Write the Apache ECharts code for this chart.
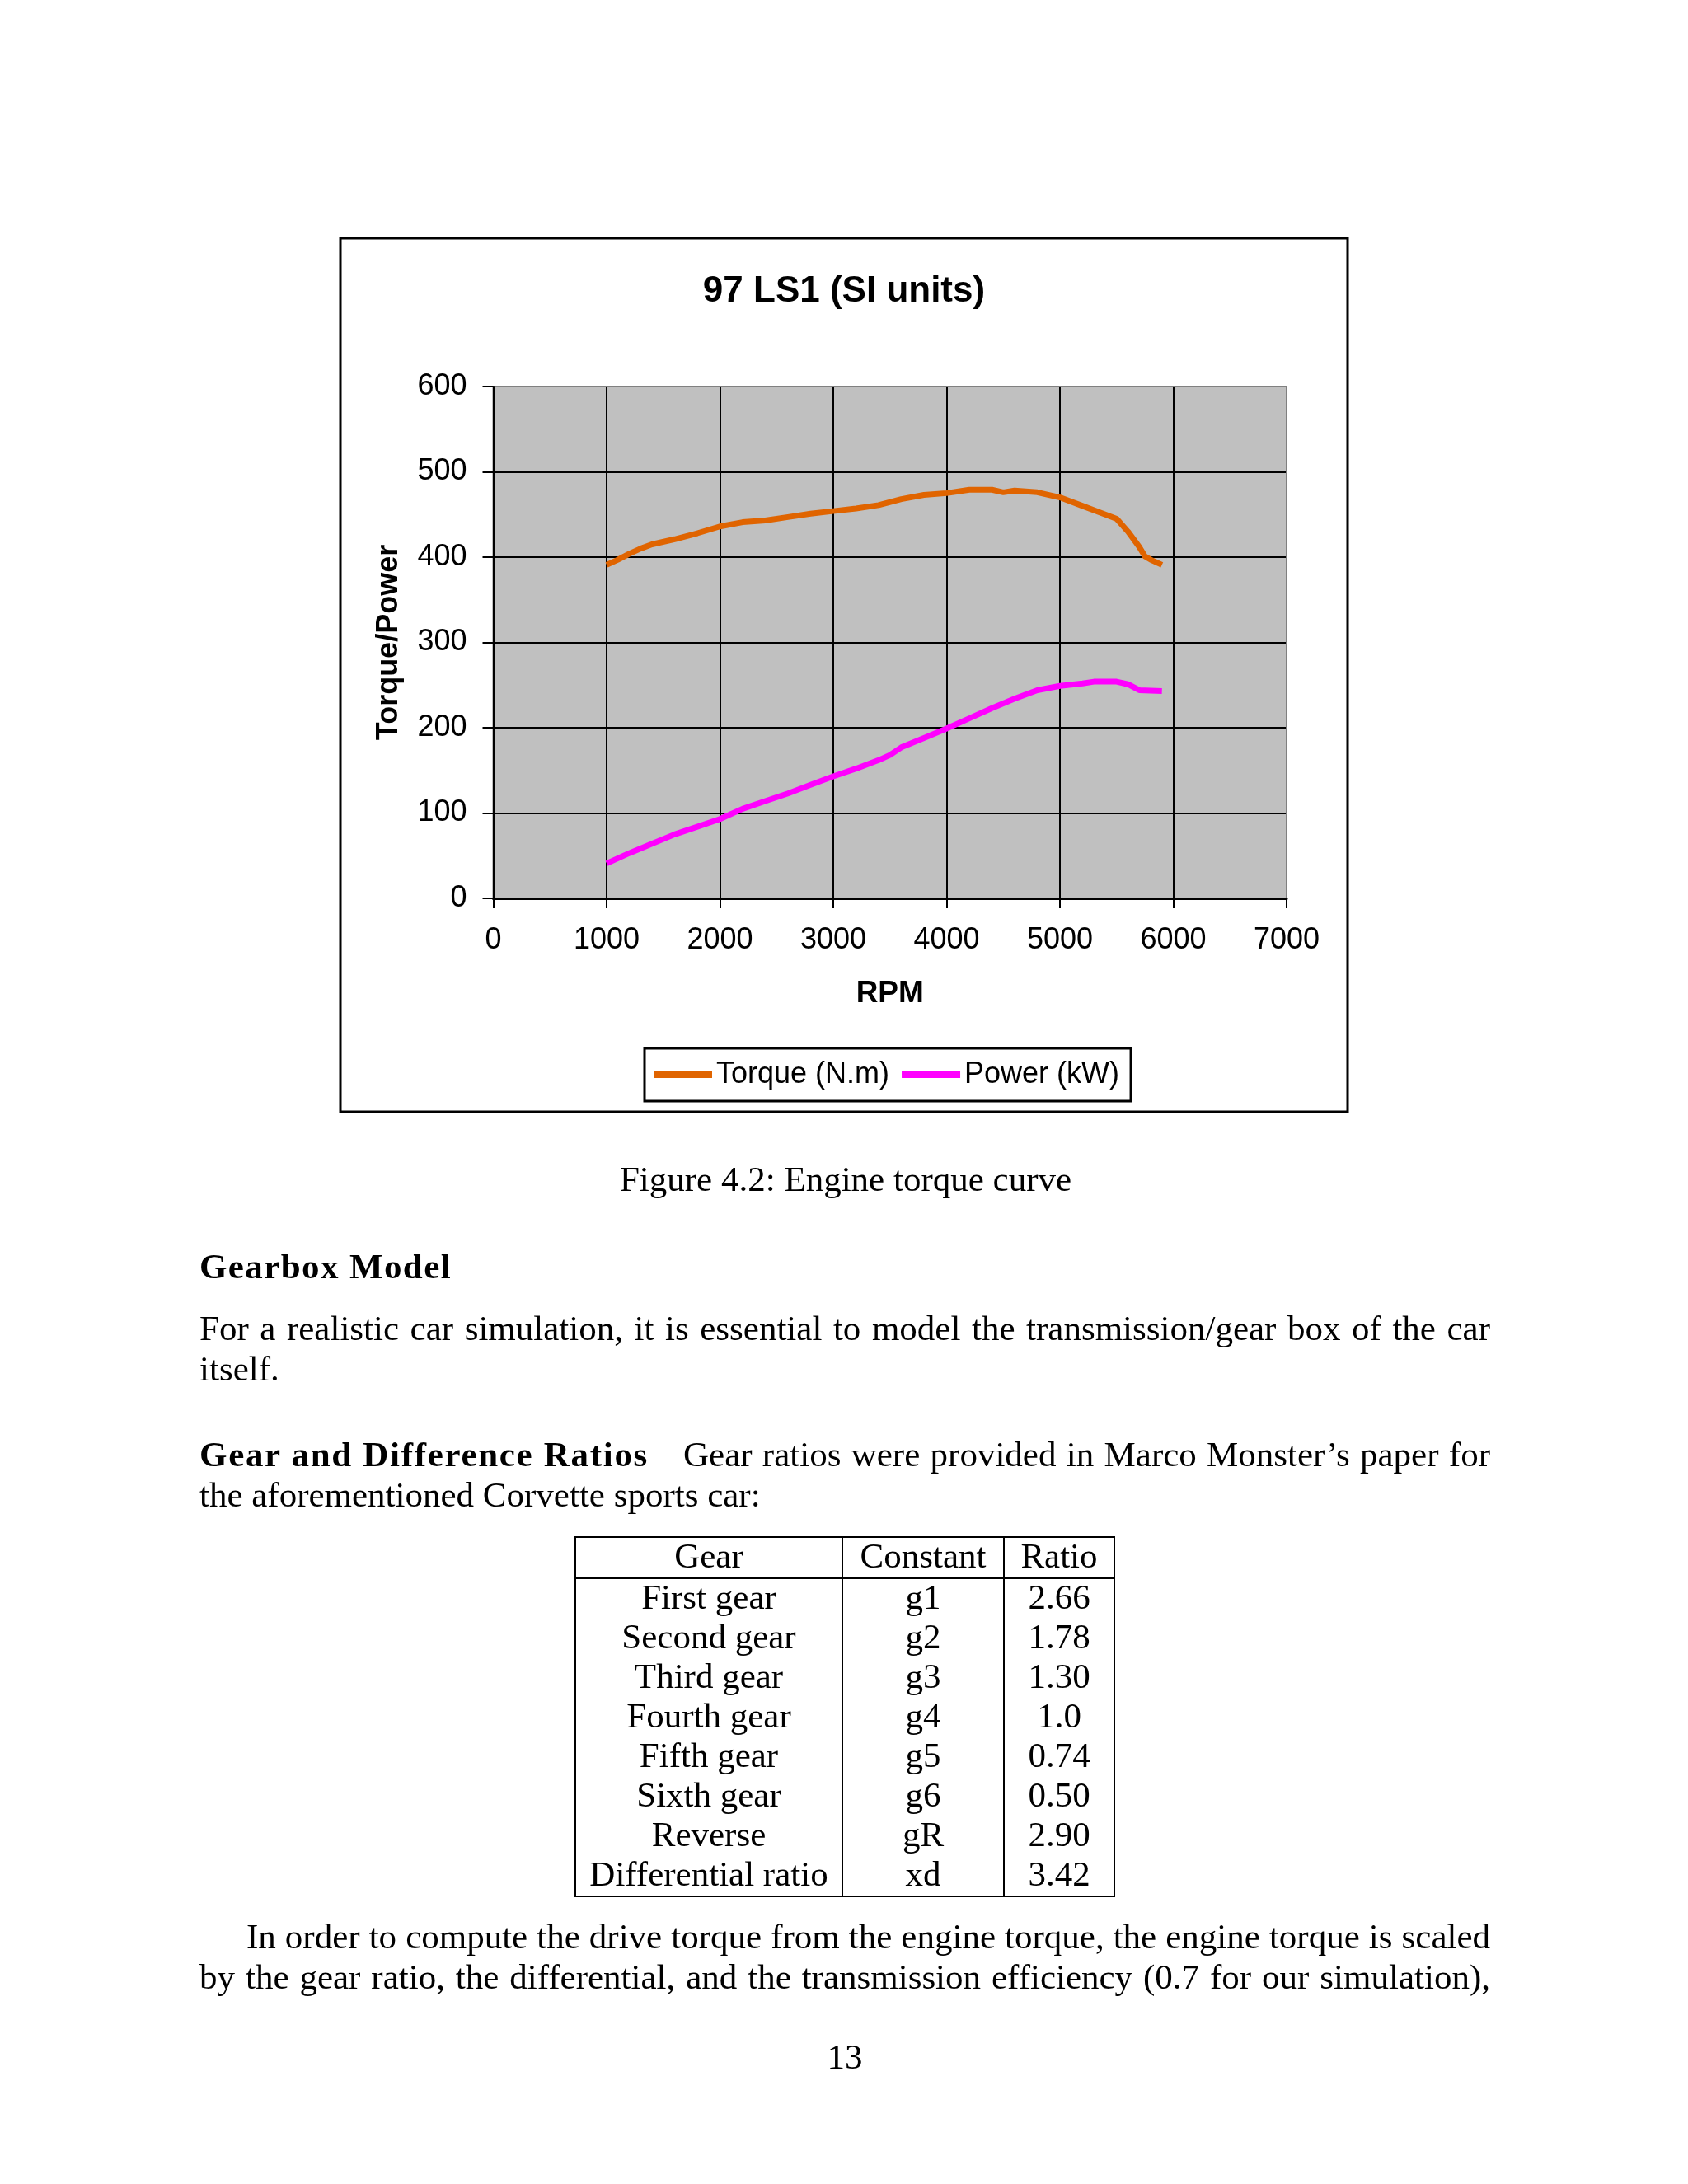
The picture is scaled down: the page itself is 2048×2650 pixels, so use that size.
<!DOCTYPE html>
<html>
<head>
<meta charset="utf-8">
<script src="https://cdn.jsdelivr.net/npm/echarts@6/dist/echarts.min.js"></script>
<style>
html,body{margin:0;padding:0;background:#fff;}
#page{position:relative;width:2048px;height:2650px;overflow:hidden;background:#fff;}
#chart{position:absolute;left:0;top:0;width:2048px;height:2650px;}
.ln{position:absolute;white-space:nowrap;font-family:'Liberation Serif','Times New Roman',serif;font-size:43px;line-height:52px;color:#000;z-index:2;}
.b{font-weight:bold;}
#tbl{position:absolute;left:697px;top:1864px;border-collapse:collapse;table-layout:fixed;z-index:2;
  font-family:'Liberation Serif','Times New Roman',serif;font-size:43px;color:#000;border:2px solid #000;}
#tbl td{padding:0 0 4px 0;text-align:center;vertical-align:middle;height:44px;line-height:44px;border-left:2px solid #000;border-right:2px solid #000;white-space:nowrap;}
#tbl tr.hd td{border-bottom:2px solid #000;}
</style>
</head>
<body>
<div id="page">
  <div id="chart"></div>

  <div class="ln" data-cx="1026" style="top:1405px;">Figure 4.2: Engine torque curve</div>

  <div class="ln b" data-w="306" data-mode="ls" style="left:242px;top:1511px;">Gearbox Model</div>

  <div class="ln" data-w="1566" style="left:242px;top:1586px;">For a realistic car simulation, it is essential to model the transmission/gear box of the car</div>
  <div class="ln" style="left:242px;top:1635px;">itself.</div>

  <div class="ln b" data-w="545" data-mode="ls" style="left:242px;top:1739px;">Gear and Difference Ratios</div>
  <div class="ln" data-w="979" style="left:829px;top:1739px;">Gear ratios were provided in Marco Monster’s paper for</div>
  <div class="ln" style="left:242px;top:1788px;">the aforementioned Corvette sports car:</div>

  <table id="tbl">
    <colgroup><col style="width:324px"><col style="width:196px"><col style="width:134px"></colgroup>
    <tbody id="tbody"></tbody>
  </table>

  <div class="ln" data-w="1509" style="left:299px;top:2324px;">In order to compute the drive torque from the engine torque, the engine torque is scaled</div>
  <div class="ln" data-w="1566" style="left:242px;top:2373px;">by the gear ratio, the differential, and the transmission efficiency (0.7 for our simulation),</div>

  <div class="ln" data-cx="1025" style="top:2470px;">13</div>
</div>

<script>
// ---------------- chart data ----------------
const chartTitle = '97 LS1 (SI units)';
const xAxisName = 'RPM';
const yAxisName = 'Torque/Power';
const torqueName = 'Torque (N.m)';
const powerName = 'Power (kW)';

const torqueRpm = [1000,1100,1200,1300,1400,1600,1800,2000,2200,2400,2600,2800,3000,3200,3400,3600,3800,4000,4200,4400,4500,4600,4800,5000,5200,5400,5500,5600,5700,5750,5800,5900];
const torqueNm  = [391, 397, 404, 410, 415, 421, 428, 436, 441, 443, 447, 451, 454, 457, 461, 468, 473, 475, 479, 479, 476, 478, 476, 470, 460, 450, 445, 430, 412, 401, 397, 391];

const powerRpm = [1000,1200,1400,1600,1800,2000,2200,2400,2600,2800,3000,3200,3400,3500,3600,3800,4000,4200,4400,4600,4800,5000,5200,5300,5500,5600,5700,5900];
const powerKw  = [41,  53,  64,  75,  84,  93,  105, 114, 123, 133, 143, 152, 162, 168, 177, 188, 199, 211, 223, 234, 244, 249, 252, 254, 254, 251, 244, 243];

// ---------------- table data ----------------
const tableHeader = ['Gear','Constant','Ratio'];
const gearNames = ['First gear','Second gear','Third gear','Fourth gear','Fifth gear','Sixth gear','Reverse','Differential ratio'];
const gearConstants = ['g1','g2','g3','g4','g5','g6','gR','xd'];
const gearRatios = ['2.66','1.78','1.30','1.0','0.74','0.50','2.90','3.42'];

// build table
(function(){
  const tb = document.getElementById('tbody');
  let html = '<tr class="hd">' + tableHeader.map(h=>'<td>'+h+'</td>').join('') + '</tr>';
  for (let i=0;i<gearNames.length;i++){
    html += '<tr><td>'+gearNames[i]+'</td><td>'+gearConstants[i]+'</td><td>'+gearRatios[i]+'</td></tr>';
  }
  tb.innerHTML = html;
})();

// text line fitting
function fitLines(){
  document.querySelectorAll('.ln').forEach(el=>{
    if (el.dataset.cx){
      el.style.left = '0px';
      const w = el.getBoundingClientRect().width;
      el.style.left = (parseFloat(el.dataset.cx) - w/2) + 'px';
    }
    if (el.dataset.w){
      const target = parseFloat(el.dataset.w);
      el.style.wordSpacing = '0px';
      el.style.letterSpacing = '0px';
      const nat = el.getBoundingClientRect().width;
      if (el.dataset.mode === 'ls'){
        const n = el.textContent.length;
        el.style.letterSpacing = ((target - nat)/n) + 'px';
      } else {
        const spaces = (el.textContent.match(/ /g)||[]).length;
        if (spaces>0) el.style.wordSpacing = ((target - nat)/spaces) + 'px';
      }
    }
  });
}
fitLines();
if (document.fonts && document.fonts.ready) document.fonts.ready.then(fitLines);

// ---------------- chart ----------------
const SANS = "'Liberation Sans', Arial, Helvetica, sans-serif";
const TORQUE_COLOR = '#E06400';
const POWER_COLOR = '#FF00FF';

const chart = echarts.init(document.getElementById('chart'), null, {renderer:'canvas'});
const option = {
  animation: false,
  backgroundColor: '#ffffff',
  title: {
    text: chartTitle,
    left: 'center',
    top: 327,
    textStyle: {fontFamily: SANS, fontSize: 44, fontWeight: 'bold', color: '#000'}
  },
  graphic: [{
    type: 'rect',
    shape: {x: 413, y: 289, width: 1222, height: 1060},
    style: {fill: 'none', stroke: '#000', lineWidth: 3},
    silent: true
  }],
  legend: {
    show: true,
    left: 782,
    top: 1272,
    orient: 'horizontal',
    padding: [14, 14, 14, 11],
    itemGap: 15,
    itemWidth: 71,
    itemHeight: 8,
    icon: 'rect',
    selectedMode: false,
    borderColor: '#000',
    borderWidth: 3,
    backgroundColor: '#fff',
    textStyle: {fontFamily: SANS, fontSize: 36, color: '#000'},
    data: [torqueName, powerName]
  },
  grid: {
    left: 598.5, top: 469, width: 962.5, height: 621,
    show: true, backgroundColor: '#C0C0C0', borderColor: '#808080', borderWidth: 2,
    containLabel: false
  },
  xAxis: {
    type: 'value', min: 0, max: 7000, interval: 1000,
    name: xAxisName, nameLocation: 'middle', nameGap: 116,
    nameTextStyle: {fontFamily: SANS, fontSize: 37, fontWeight: 'bold', color: '#000', verticalAlign: 'middle'},
    axisLine: {show: true, onZero: false, lineStyle: {color: '#000', width: 3}},
    axisTick: {show: true, length: 12, lineStyle: {color: '#000', width: 2}},
    axisLabel: {margin: 33, fontFamily: SANS, fontSize: 36, color: '#000', formatter: v => String(v)},
    splitLine: {show: true, lineStyle: {color: ['#000','#000','#000','#000','#000','#000','#000','#808080'], width: 2}}
  },
  yAxis: {
    type: 'value', min: 0, max: 600, interval: 100,
    name: yAxisName, nameLocation: 'middle', nameGap: 126, nameRotate: 90,
    nameTextStyle: {fontFamily: SANS, fontSize: 36, fontWeight: 'bold', color: '#000', verticalAlign: 'middle'},
    axisLine: {show: true, onZero: false, lineStyle: {color: '#000', width: 2}},
    axisTick: {show: true, length: 13, lineStyle: {color: '#000', width: 2}},
    axisLabel: {margin: 32, fontFamily: SANS, fontSize: 36, color: '#000', formatter: v => String(v)},
    splitLine: {show: true, lineStyle: {color: ['#000','#000','#000','#000','#000','#000','#808080'], width: 2}}
  },
  series: [
    {
      name: torqueName, type: 'line',
      data: torqueRpm.map((r,i)=>[r, torqueNm[i]]),
      symbol: 'none', showSymbol: false, smooth: false, silent: true,
      lineStyle: {color: TORQUE_COLOR, width: 7, cap: 'butt', join: 'round'},
      itemStyle: {color: TORQUE_COLOR}
    },
    {
      name: powerName, type: 'line',
      data: powerRpm.map((r,i)=>[r, powerKw[i]]),
      symbol: 'none', showSymbol: false, smooth: false, silent: true,
      lineStyle: {color: POWER_COLOR, width: 7, cap: 'butt', join: 'round'},
      itemStyle: {color: POWER_COLOR}
    }
  ]
};
chart.setOption(option);
</script>
</body>
</html>
